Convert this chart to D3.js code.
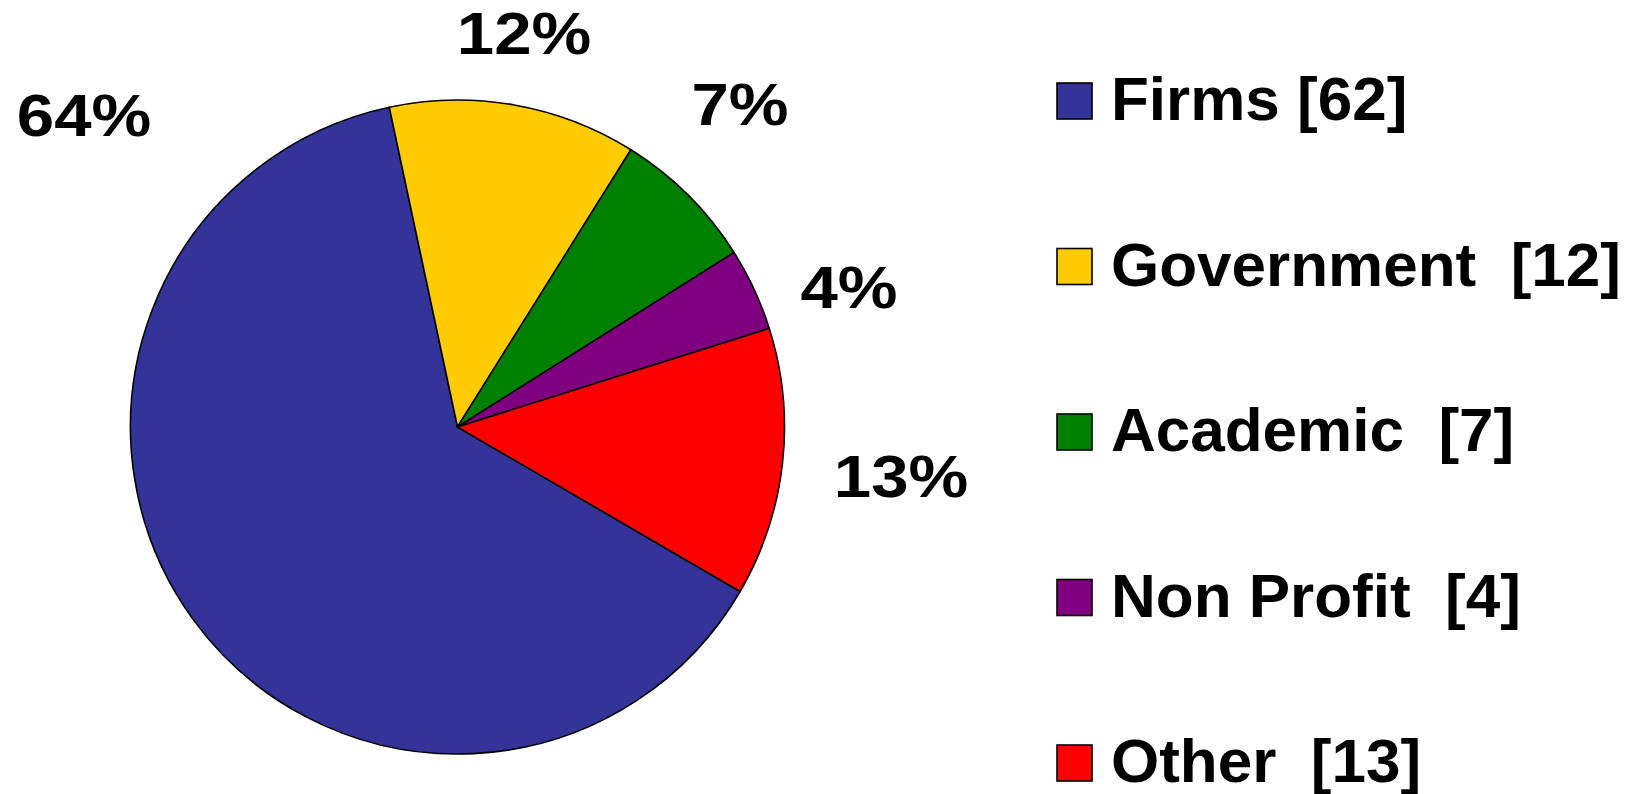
<!DOCTYPE html>
<html>
<head>
<meta charset="utf-8">
<script src="https://cdn.jsdelivr.net/npm/d3@7"></script>
<style>
  html, body { margin: 0; padding: 0; background: #ffffff; }
  svg { display: block; }
  .legend text { white-space: pre; }
</style>
</head>
<body>
<div id="chart"></div>
<script>
// ---- data ----
const categories = ["Firms", "Government", "Academic", "Non Profit", "Other"];
const values = [62, 12, 7, 4, 13];
const percentLabels = ["64%", "12%", "7%", "4%", "13%"];
const legendLabels = ["Firms [62]", "Government  [12]", "Academic  [7]", "Non Profit  [4]", "Other  [13]"];
const colors = ["#333399", "#FFCC00", "#008000", "#800080", "#FF0000"];

// ---- layout ----
const W = 1639, H = 794;
const cx = 457.5, cy = 427, R = 327;
const startDeg = 120.2;
const labelPos = [[84, 136], [524, 54], [740, 125], [849, 308], [901, 497]];

const svg = d3.select("#chart").append("svg")
  .attr("width", W).attr("height", H);

const data = categories.map((c, i) => ({ cat: c, value: values[i], color: colors[i], pct: percentLabels[i], leg: legendLabels[i] }));

const start = startDeg * Math.PI / 180;
const pie = d3.pie().sort(null).value(d => d.value)
  .startAngle(start).endAngle(start + 2 * Math.PI);
const arc = d3.arc().innerRadius(0).outerRadius(R);

const g = svg.append("g").attr("transform", `translate(${cx},${cy})`);
g.selectAll("path").data(pie(data)).join("path")
  .attr("d", arc)
  .attr("fill", d => d.data.color)
  .attr("stroke", "#000")
  .attr("stroke-width", 1.6)
  .attr("stroke-linejoin", "round");

svg.append("g").selectAll("text").data(data).join("text")
  .attr("transform", (d, i) => `translate(${labelPos[i][0]},${labelPos[i][1]}) scale(1.12,1)`)
  .attr("text-anchor", "middle")
  .attr("font-family", "'Liberation Sans', Arial, sans-serif")
  .attr("font-weight", "bold")
  .attr("font-size", 60)
  .attr("fill", "#000")
  .text(d => d.pct);

// ---- legend ----
const legX = 1057, legY0 = 120, legStep = 165.5;
const yLeg = d3.scalePoint().domain(categories).range([legY0, legY0 + legStep * (categories.length - 1)]);
const leg = svg.append("g").attr("class", "legend");
const items = leg.selectAll("g").data(data).join("g")
  .attr("transform", d => `translate(${legX},${yLeg(d.cat)})`);
items.append("rect")
  .attr("x", 0).attr("y", -37)
  .attr("width", 35).attr("height", 36)
  .attr("fill", d => d.color)
  .attr("stroke", "#000")
  .attr("stroke-width", 1.6);
items.append("text")
  .attr("x", 54).attr("y", 0)
  .attr("font-family", "'Liberation Sans', Arial, sans-serif")
  .attr("font-weight", "bold")
  .attr("font-size", 62)
  .attr("fill", "#000")
  .attr("xml:space", "preserve")
  .text(d => d.leg);
</script>
</body>
</html>
